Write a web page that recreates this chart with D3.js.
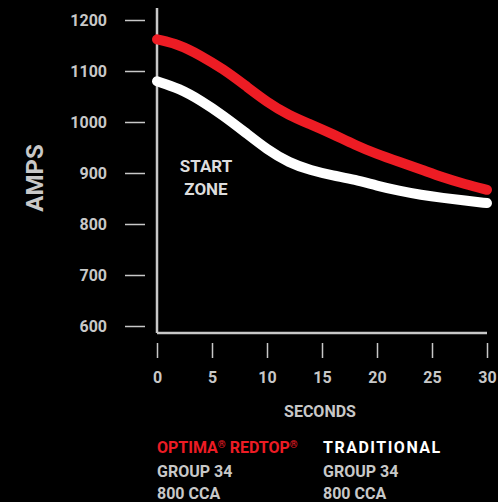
<!DOCTYPE html>
<html>
<head>
<meta charset="utf-8">
<script src="https://cdnjs.cloudflare.com/ajax/libs/d3/7.8.5/d3.min.js"></script>
<style>
  body { margin: 0; background: #000; }
  text { font-family: Roboto, "Noto Sans", sans-serif; font-weight: bold; }
</style>
</head>
<body>
<div class="canvas"></div>
<script>
// data
const seconds = [0, 2, 4, 6, 8, 10, 12, 14, 16, 18, 20, 22, 24, 26, 28, 30]
const redtopAmps = [1162, 1152, 1130, 1104, 1072, 1039, 1013, 995, 976, 955, 937, 922, 907, 891, 878, 867]
const traditionalAmps = [1080, 1066, 1042, 1013, 980, 946, 920, 905, 895, 887, 875, 865, 857, 851, 846, 841]
const yTicks = [600, 700, 800, 900, 1000, 1100, 1200]
const xTicks = [0, 5, 10, 15, 20, 25, 30]

const grey = '#c8c8c8'
const red = '#ed1c24'

const svg = d3.select('.canvas').append('svg')
    .attr('width', 498)
    .attr('height', 502)

svg.append('rect')
    .attr('width', 498)
    .attr('height', 502)
    .attr('fill', '#000')

const x = d3.scaleLinear().domain([0, 30]).range([157, 487])
const y = d3.scaleLinear().domain([600, 1200]).range([326, 20])

// y axis: ticks are detached from the axis line
const yAxis = svg.append('g')
    .attr('transform', 'translate(145,0)')
    .call(d3.axisLeft(y).tickValues(yTicks).tickFormat(d3.format('d')).tickSize(20).tickPadding(18))
yAxis.select('.domain').remove()
yAxis.selectAll('line').attr('stroke', grey).attr('stroke-width', 1.5)
yAxis.selectAll('text')
    .attr('fill', grey)
    .style('font-size', '16px')
    .style('font-family', 'Roboto')

// x axis
const xAxis = svg.append('g')
    .attr('transform', 'translate(0,343)')
    .call(d3.axisBottom(x).tickValues(xTicks).tickSize(15).tickPadding(14))
xAxis.select('.domain').remove()
xAxis.selectAll('line').attr('stroke', grey).attr('stroke-width', 1.5)
xAxis.selectAll('text')
    .attr('fill', grey)
    .style('font-size', '16px')
    .style('font-family', 'Roboto')

// frame lines
svg.append('line')
    .attr('x1', x(0)).attr('y1', 8)
    .attr('x2', x(0)).attr('y2', 333)
    .attr('stroke', grey).attr('stroke-width', 2.5)
svg.append('line')
    .attr('x1', x(0)).attr('y1', 333)
    .attr('x2', x(30)).attr('y2', 333)
    .attr('stroke', grey).attr('stroke-width', 2.5)

// curves
const line = d3.line()
    .x((d, i) => x(seconds[i]))
    .y(d => y(d))
    .curve(d3.curveBasis)

svg.append('path')
    .attr('d', line(traditionalAmps))
    .attr('fill', 'none')
    .attr('stroke', '#fff')
    .attr('stroke-width', 10)
    .attr('stroke-linecap', 'round')

svg.append('path')
    .attr('d', line(redtopAmps))
    .attr('fill', 'none')
    .attr('stroke', red)
    .attr('stroke-width', 10)
    .attr('stroke-linecap', 'round')

// labels
svg.append('text')
    .attr('transform', 'translate(43,178) rotate(-90)')
    .attr('text-anchor', 'middle')
    .attr('fill', grey)
    .style('font-size', '24px')
    .text('AMPS')

svg.append('text')
    .attr('x', 320).attr('y', 417)
    .attr('text-anchor', 'middle')
    .attr('fill', grey)
    .style('font-size', '16px')
    .text('SECONDS')

svg.append('text')
    .attr('x', 206).attr('y', 172)
    .attr('text-anchor', 'middle')
    .attr('fill', '#ddd')
    .style('font-size', '17px')
    .text('START')
svg.append('text')
    .attr('x', 206).attr('y', 195)
    .attr('text-anchor', 'middle')
    .attr('fill', '#ddd')
    .style('font-size', '17px')
    .text('ZONE')

// legend
const optima = svg.append('text')
    .attr('x', 157).attr('y', 453)
    .attr('fill', red)
    .style('font-size', '16px')
optima.append('tspan').text('OPTIMA')
optima.append('tspan').attr('dy', -5).style('font-size', '10px').text('®')
optima.append('tspan').attr('dy', 5).text(' REDTOP')
optima.append('tspan').attr('dy', -5).style('font-size', '10px').text('®')

svg.append('text')
    .attr('x', 157).attr('y', 477)
    .attr('fill', grey)
    .style('font-size', '16px')
    .text('GROUP 34')
svg.append('text')
    .attr('x', 157).attr('y', 499)
    .attr('fill', grey)
    .style('font-size', '16px')
    .text('800 CCA')

svg.append('text')
    .attr('x', 323).attr('y', 453)
    .attr('fill', '#fff')
    .style('font-size', '16px')
    .style('letter-spacing', '1.5px')
    .text('TRADITIONAL')
svg.append('text')
    .attr('x', 323).attr('y', 477)
    .attr('fill', grey)
    .style('font-size', '16px')
    .text('GROUP 34')
svg.append('text')
    .attr('x', 323).attr('y', 499)
    .attr('fill', grey)
    .style('font-size', '16px')
    .text('800 CCA')
</script>
</body>
</html>
